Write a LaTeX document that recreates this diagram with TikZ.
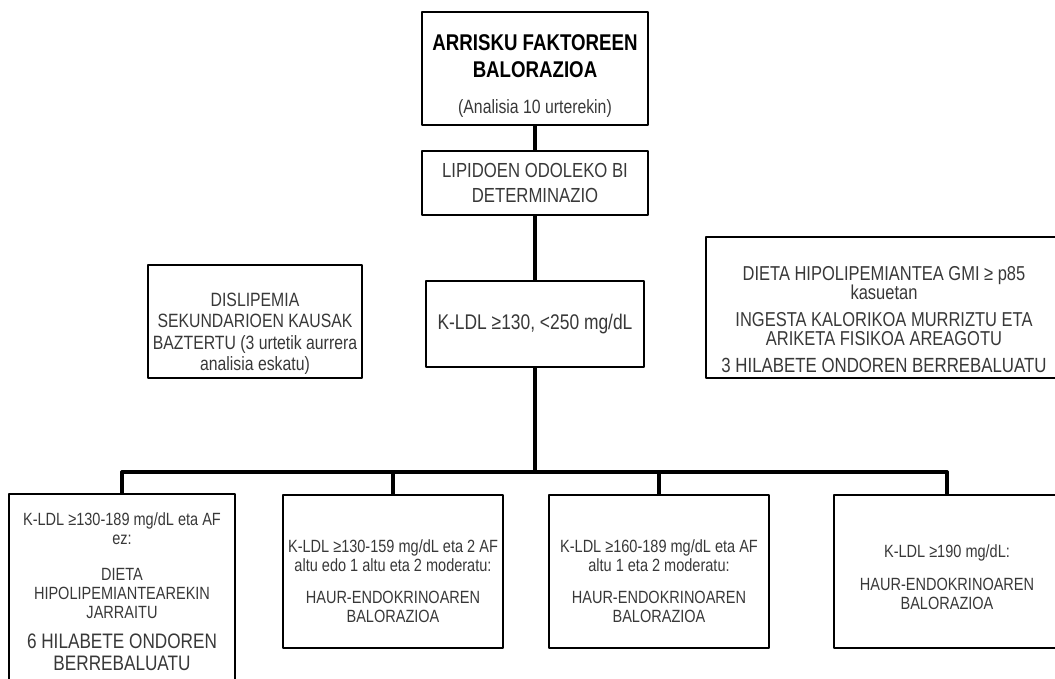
\documentclass[tikz,border=0pt]{standalone}
\usepackage{fontspec}
\setmainfont{Liberation Sans}[FakeStretch=0.82]
\newcommand{\sz}[2]{\fontsize{#1}{#2}\selectfont}
\newcommand{\lift}[1]{\rule{0pt}{#1}}
\begin{document}
\begin{tikzpicture}[line cap=round,line join=round,
  box/.style={draw,line width=1.8pt,align=center,inner sep=2pt,text=black!78},
  wire/.style={line width=2.4pt}]
  \path[use as bounding box,clip] (0,0) rectangle (26.375,16.975);
  % upper column
  \node[box,minimum width=5.65cm,minimum height=2.825cm,text=black,
        font=\sz{16.2}{19.5}\bfseries] (risk) at (13.375,15.26)
    {\lift{21.8pt}ARRISKU FAKTOREEN\\BALORAZIOA\\[6pt]%
     {\sz{13.7}{14}\mdseries\color{black!78}(Analisia 10 urterekin)}};
  \node[box,minimum width=5.65cm,minimum height=1.6cm,font=\sz{14.5}{17.8}] (lipid) at (13.375,12.4)
    {LIPIDOEN ODOLEKO BI\\DETERMINAZIO};
  \node[box,minimum width=5.45cm,minimum height=2.15cm,font=\sz{15.1}{15}] (ldl) at (13.375,8.875)
    {K-LDL ≥130, <250 mg/dL};
  % side notes
  \node[box,minimum width=5.35cm,minimum height=2.825cm,font=\sz{13.7}{15.3}] (causes) at (6.375,8.94)
    {\lift{27pt}DISLIPEMIA\\SEKUNDARIOEN KAUSAK\\BAZTERTU (3 urtetik aurrera\\analisia eskatu)};
  \node[box,minimum width=8.9cm,minimum height=3.525cm,font=\sz{14.3}{13.5}] (diet) at (22.1,9.29)
    {\lift{27.4pt}DIETA HIPOLIPEMIANTEA GMI ≥ p85\\kasuetan\\[6pt]%
     INGESTA KALORIKOA MURRIZTU ETA\\ARIKETA FISIKOA AREAGOTU\\[6pt]%
     {\sz{14.6}{14}3 HILABETE ONDOREN BERREBALUATU}};
  % lower row
  \node[box,minimum width=5.65cm,minimum height=4.9cm,font=\sz{12.6}{13.5}] (k1) at (3.05,2.175)
    {K-LDL ≥130-189 mg/dL eta AF\\ez:\\[12pt]%
     DIETA\\HIPOLIPEMIANTEAREKIN\\JARRAITU\\[8pt]%
     {\sz{14.9}{15.6}6 HILABETE ONDOREN}\\[2pt]{\sz{14.9}{15.6}BERREBALUATU}};
  \node[box,minimum width=5.5cm,minimum height=3.825cm,font=\sz{12.6}{13.5}] (k2) at (9.825,2.6875)
    {\lift{23pt}K-LDL ≥130-159 mg/dL eta 2 AF\\altu edo 1 altu eta 2 moderatu:\\[9pt]%
     HAUR-ENDOKRINOAREN\\BALORAZIOA};
  \node[box,minimum width=5.5cm,minimum height=3.825cm,font=\sz{12.6}{13.5}] (k3) at (16.475,2.6875)
    {\lift{23pt}K-LDL ≥160-189 mg/dL eta AF\\altu 1 eta 2 moderatu:\\[9pt]%
     HAUR-ENDOKRINOAREN\\BALORAZIOA};
  \node[box,minimum width=5.65cm,minimum height=3.825cm,font=\sz{12.6}{13.5}] (k4) at (23.675,2.6875)
    {\lift{17.8pt}K-LDL ≥190 mg/dL:\\[10pt]%
     HAUR-ENDOKRINOAREN\\BALORAZIOA};
  % connectors
  \coordinate (bus) at (13.375,5.175);
  \draw[wire] (risk.south) -- (lipid.north);
  \draw[wire] (lipid.south) -- (ldl.north);
  \draw[wire] (ldl.south) -- (bus);
  \draw[wire] (bus -| k1.north) -- (bus -| k4.north);
  \foreach \k in {k1,k2,k3,k4}
    \draw[wire] (bus -| \k.north) -- (\k.north);
\end{tikzpicture}
\end{document}
